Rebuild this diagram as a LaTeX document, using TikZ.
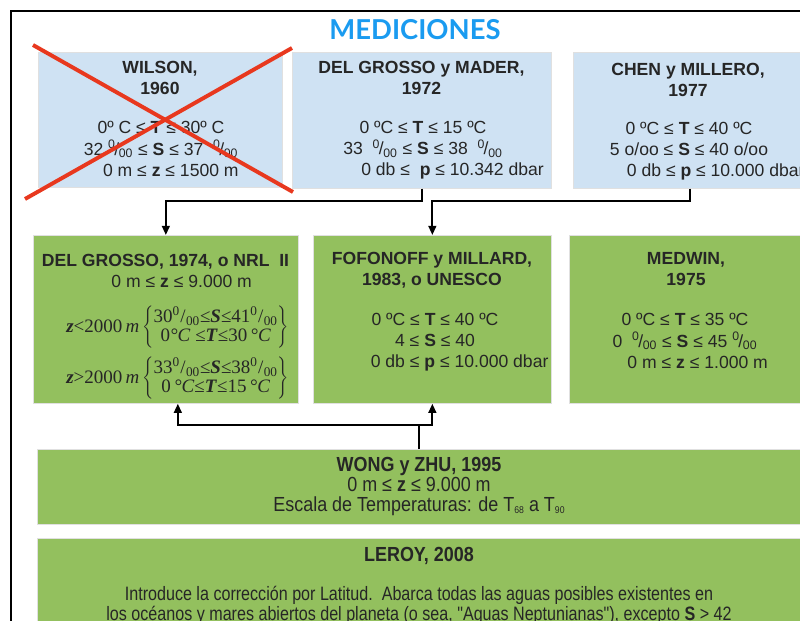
\documentclass[tikz,border=0pt]{standalone}
\usepackage{fontspec}
\setmainfont{Liberation Sans}
\newfontfamily\tmr{Liberation Serif}
\newfontfamily\narrowA[FakeStretch=0.88]{Liberation Sans}
\newfontfamily\narrowB[FakeStretch=0.83]{Liberation Sans}
\newfontfamily\titlef{Lato}
\usetikzlibrary{arrows.meta}
\definecolor{bluefill}{RGB}{207,226,243}
\definecolor{greenfill}{RGB}{147,192,94}
\definecolor{titleblue}{RGB}{26,155,240}
\definecolor{txt}{RGB}{38,38,38}
\definecolor{xred}{RGB}{232,56,30}
\newcommand{\pmil}{\textsuperscript{0}\kern-0.08em/\kern-0.02em\textsubscript{00}}
\newcommand{\pmilS}{\textsuperscript{0}\kern0.02em/\kern0.02em\textsubscript{00}}
\begin{document}
\begin{tikzpicture}[x=0.025cm,y=-0.025cm,
  sz/.style 2 args={minimum width=#1*0.025cm, minimum height=#2*0.025cm},
  box/.style={draw=black!12, line width=0.5pt, inner sep=0pt, anchor=north west},
  bbox/.style={box, fill=bluefill},
  gbox/.style={box, fill=greenfill},
  txtnode/.style={align=center, text=txt, font=\fontsize{12.5}{15}\selectfont, inner sep=0pt},
  ttl/.style={txtnode, font=\fontsize{12.5}{15}\selectfont\bfseries},
  conn/.style={line width=1.4pt, -{Triangle[length=6.5pt,width=5.5pt]}},
  xline/.style={xred, line width=2.8pt},
]
\useasboundingbox (0,0) rectangle (800,620);
\draw[line width=1.4pt] (11,11) rectangle (840,660);

\node[font=\titlef\bfseries\fontsize{19.5}{20}\selectfont, text=titleblue] (title) at (415,30) {MEDICIONES};

% boxes
\node[bbox, sz={244}{135}] (wilson) at (38,52) {};
\node[bbox, sz={259}{136}] (dgm) at (292,52) {};
\node[bbox, sz={234}{136}] (chen) at (573,52) {};
\node[gbox, sz={265}{168}] (dg74) at (33,235) {};
\node[gbox, sz={238}{168}] (fof) at (313,235) {};
\node[gbox, sz={234}{168}] (medwin) at (569,235) {};
\node[gbox, sz={764}{75}] (wong) at (37,449) {};
\node[gbox, sz={764}{102}] (leroy) at (37,538) {};

% Wilson
\node[ttl] (wilsonT) at (160,77.5) {WILSON,\\1960};
\node[txtnode] (wilsonB) at (161,149) {0º C ≤ \textbf{T} ≤ 30º C\\32 \pmil{} ≤ \textbf{S} ≤ 37 \ \pmil\\\hspace*{14pt}0 m ≤ \textbf{z} ≤ 1500 m};
\draw[xline] (33,45) -- (293,192);
\draw[xline] (25,199) -- (292,48);

% Del Grosso y Mader
\node[ttl] (dgmT) at (421.5,77.5) {DEL GROSSO y MADER,\\1972};
\node[txtnode] (dgmB) at (423,150) {0 ºC ≤ \textbf{T} ≤ 15 ºC\\33 \ \pmil{} ≤ \textbf{S} ≤ 38 \ \pmil\\\hspace*{42pt}0 db ≤ \ \textbf{p} ≤ 10.342 dbar};

% Chen y Millero
\node[ttl] (chenT) at (688,80) {CHEN y MILLERO,\\1977};
\node[txtnode] (chenB) at (689,151) {0 ºC ≤ \textbf{T} ≤ 40 ºC\\5 o/oo ≤ \textbf{S} ≤ 40 o/oo\\\hspace*{38pt}0 db ≤ \textbf{p} ≤ 10.000 dbar};

% Del Grosso 1974
\node[ttl, font=\fontsize{12.5}{15}\selectfont] (dg74T) at (165.5,270.5) {\textbf{DEL GROSSO, 1974, o NRL \ II}\\\hspace*{23pt}0 m ≤ \textbf{z} ≤ 9.000 m};
\node[anchor=west, inner sep=0pt, text=txt] (dg74m1) at (66,327) {\tmr\fontsize{13.5}{14}\selectfont\def\arraystretch{0.95}\textbf{\textit{z}}<2000\,\textit{m}\,$\left\{\begin{tabular}{@{}c@{}}30\pmilS≤\textbf{\textit{S}}≤41\pmilS\\0\textit{°C} ≤\textbf{\textit{T}}≤30\,\textit{°C}\end{tabular}\right\}$};
\node[anchor=west, inner sep=0pt, text=txt] (dg74m2) at (66,378) {\tmr\fontsize{13.5}{14}\selectfont\def\arraystretch{0.95}\textbf{\textit{z}}>2000\,\textit{m}\,$\left\{\begin{tabular}{@{}c@{}}33\pmilS≤\textbf{\textit{S}}≤38\pmilS\\0\,\textit{°C}≤\textbf{\textit{T}}≤15\,\textit{°C}\end{tabular}\right\}$};

% Fofonoff y Millard
\node[ttl] (fofT) at (432,270.5) {FOFONOFF y MILLARD,\\1983, o UNESCO};
\node[txtnode] (fofB) at (435,342) {0 ºC ≤ \textbf{T} ≤ 40 ºC\\4 ≤ \textbf{S} ≤ 40\\\hspace*{35pt}0 db ≤ \textbf{p} ≤ 10.000 dbar};

% Medwin
\node[ttl] (medwinT) at (686,269) {MEDWIN,\\1975};
\node[txtnode] (medwinB) at (685,341) {0 ºC ≤ \textbf{T} ≤ 35 ºC\\0 \ \pmil{} ≤ \textbf{S} ≤ 45 \pmil\\\hspace*{18pt}0 m ≤ \textbf{z} ≤ 1.000 m};

% Wong y Zhu
\node[txtnode, font=\narrowA\fontsize{14.5}{14.5}\selectfont] (wongB) at (419,486.5) {\textbf{WONG y ZHU, 1995}\\0 m ≤ \textbf{z} ≤ 9.000 m\\Escala de Temperaturas: de T{\fontsize{7}{7}\selectfont\raisebox{-0.3ex}{68}} a T{\fontsize{7}{7}\selectfont\raisebox{-0.3ex}{90}}};

% Leroy
\node[txtnode, font=\narrowA\fontsize{14.5}{14.5}\selectfont\bfseries] (leroyT) at (419,556) {LEROY, 2008};
\node[txtnode, font=\narrowB\fontsize{13.8}{14}\selectfont] (leroyB) at (419,605.5) {Introduce la corrección por Latitud.\ \ Abarca todas las aguas posibles existentes en\\los océanos y mares abiertos del planeta (o sea, "Aguas Neptunianas"), excepto \textbf{S} > 42};

% connectors
\draw[conn] (dgm.south) -- ++(0,12) -| (dg74.north);
\draw[conn] (chen.south) -- ++(0,12) -| (fof.north);
\draw[conn] (wong.north) -- ++(0,-24) -| ([xshift=12*0.025cm]dg74.south);
\draw[conn] (wong.north) ++(0,-24) -| (fof.south);
\end{tikzpicture}
\end{document}
